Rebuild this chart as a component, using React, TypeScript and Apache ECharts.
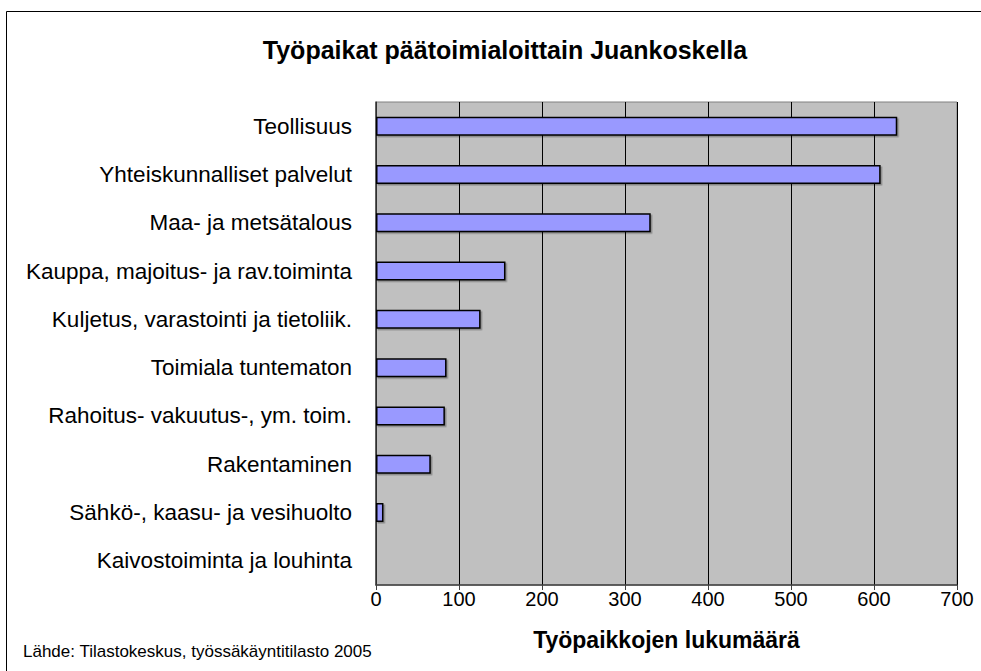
import React, { useEffect, useRef } from "react";
import * as echarts from "echarts";

const categories = [
  "Teollisuus",
  "Yhteiskunnalliset palvelut",
  "Maa- ja metsätalous",
  "Kauppa, majoitus- ja rav.toiminta",
  "Kuljetus, varastointi ja tietoliik.",
  "Toimiala tuntematon",
  "Rahoitus- vakuutus-, ym. toim.",
  "Rakentaminen",
  "Sähkö-, kaasu- ja vesihuolto",
  "Kaivostoiminta ja louhinta",
];
const values = [628, 608, 331, 156, 126, 85, 83, 66, 9, 0];
const titleText = "Työpaikat päätoimialoittain Juankoskella";
const axisName = "Työpaikkojen lukumäärä";
const sourceText = "Lähde: Tilastokeskus, työssäkäyntitilasto 2005";

export default function App() {
  const ref = useRef<HTMLDivElement>(null);
  useEffect(() => {
    document.body.style.margin = "0";
    const chart = echarts.init(ref.current!, null, { renderer: "svg" });
    const font = "Liberation Sans, Arial, sans-serif";
    chart.setOption({
      animation: false,
      backgroundColor: "#ffffff",
      textStyle: { fontFamily: font },
      title: {
        text: titleText,
        left: 500,
        top: 32,
        textAlign: "center",
        textStyle: { fontSize: 25, fontWeight: "bold", color: "#000", fontFamily: font },
      },
      graphic: [
        {
          type: "rect",
          shape: { x: 6.5, y: 11.5, width: 1000, height: 700 },
          style: { fill: "none", stroke: "#000", lineWidth: 1 },
          silent: true,
        },
        {
          type: "text",
          left: 23,
          top: 643,
          style: { text: sourceText, fontSize: 17, fill: "#000", fontFamily: font },
        },
      ],
      grid: {
        left: 376,
        right: 24,
        top: 102,
        bottom: 86,
        show: true,
        backgroundColor: "#C0C0C0",
        borderColor: "#808080",
        borderWidth: 1,
        containLabel: false,
      },
      xAxis: {
        type: "value",
        min: 0,
        max: 700,
        interval: 100,
        axisLine: { show: true, lineStyle: { color: "#404040", width: 1.5 } },
        axisTick: { show: true, length: 5, lineStyle: { color: "#404040" } },
        axisLabel: { fontSize: 20, color: "#000", margin: 4, fontFamily: font },
        splitLine: { show: true, lineStyle: { color: "#000", width: 1 } },
        name: axisName,
        nameLocation: "middle",
        nameGap: 43,
        nameTextStyle: { fontSize: 23, fontWeight: "bold", color: "#000", fontFamily: font },
      },
      yAxis: {
        type: "category",
        inverse: true,
        data: categories,
        axisLine: { show: true, lineStyle: { color: "#404040", width: 1.5 } },
        axisTick: { show: false },
        axisLabel: { fontSize: 22.5, color: "#000", margin: 24, fontFamily: font },
        splitLine: { show: false },
      },
      series: [
        {
          type: "bar",
          data: values,
          barWidth: 19,
          itemStyle: {
            color: "#9999FF",
            borderColor: "#000",
            borderWidth: 1.5,
            shadowColor: "rgba(0,0,0,0.3)",
            shadowOffsetX: 1.5,
            shadowOffsetY: 1.5,
            shadowBlur: 0,
          },
        },
      ],
    });
    return () => chart.dispose();
  }, []);
  return <div ref={ref} style={{ width: 981, height: 671 }} />;
}
